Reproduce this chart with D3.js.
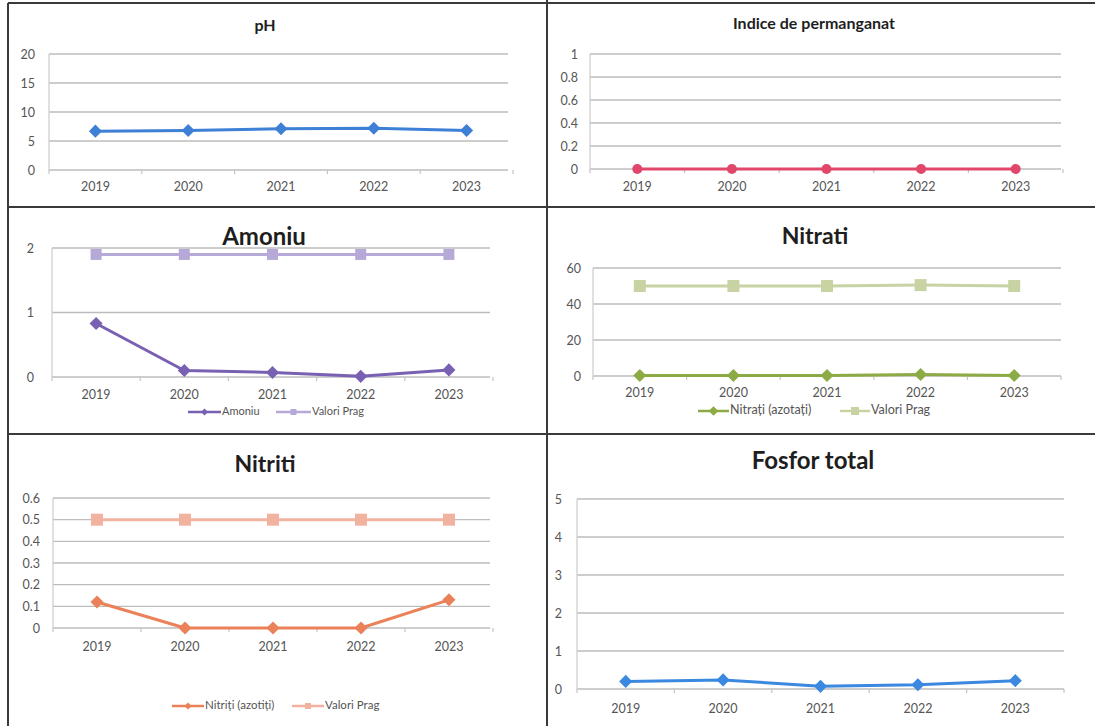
<!DOCTYPE html>
<html><head><meta charset="utf-8">
<script src="https://cdn.jsdelivr.net/npm/d3@7/dist/d3.min.js"></script>
<style>body{margin:0;background:#fff}svg{display:block}</style>
</head><body>
<svg id="c" width="1095" height="726"></svg>
<script>
const years = ["2019","2020","2021","2022","2023"];
const phValues = [6.7, 6.8, 7.1, 7.2, 6.8];
const phTicks = [0,5,10,15,20];
const permanganatValues = [0,0,0,0,0];
const permanganatTicks = [0,0.2,0.4,0.6,0.8,1];
const amoniuValues = [0.83, 0.1, 0.07, 0.01, 0.11];
const amoniuPrag = [1.9, 1.9, 1.9, 1.9, 1.9];
const amoniuTicks = [0,1,2];
const nitratiValues = [0.3, 0.3, 0.3, 0.8, 0.3];
const nitratiPrag = [50, 50, 50, 50.5, 50];
const nitratiTicks = [0,20,40,60];
const nitritiValues = [0.12, 0, 0, 0, 0.13];
const nitritiPrag = [0.5, 0.5, 0.5, 0.5, 0.5];
const nitritiTicks = [0,0.1,0.2,0.3,0.4,0.5,0.6];
const fosforValues = [0.2, 0.24, 0.07, 0.11, 0.22];
const fosforTicks = [0,1,2,3,4,5];

const svg = d3.select("#c");
const FONT = "Lato, 'Open Sans', sans-serif";

// frame lines
const frame = svg.append("g").attr("stroke","#3a3a3a").attr("stroke-width",2);
frame.append("line").attr("x1",8).attr("x2",1095).attr("y1",3).attr("y2",3);
frame.append("line").attr("x1",8).attr("x2",8).attr("y1",3).attr("y2",726);
frame.append("line").attr("x1",547).attr("x2",547).attr("y1",0).attr("y2",726);
frame.append("line").attr("x1",8).attr("x2",1095).attr("y1",207).attr("y2",207);
frame.append("line").attr("x1",8).attr("x2",1095).attr("y1",434).attr("y2",434);

function marker(g, type, x, y, c, s){
  if(type==="square"){
    g.append("rect").attr("x",x-s/2).attr("y",y-s/2).attr("width",s).attr("height",s).attr("fill",c);
  } else if(type==="circle"){
    g.append("circle").attr("cx",x).attr("cy",y).attr("r",s/2).attr("fill",c);
  } else {
    g.append("path").attr("d", d3.symbol(d3.symbolDiamond2, s*s*0.9)()).attr("transform",`translate(${x},${y})`).attr("fill",c);
  }
}

function panel(cfg){
  const g = svg.append("g");
  const x = d3.scaleBand().domain(years).range([cfg.left, cfg.right]).padding(0);
  const y = d3.scaleLinear().domain([0, d3.max(cfg.ticks)]).range([cfg.bottom, cfg.top]);
  // gridlines
  g.append("g").selectAll("line").data(cfg.ticks).join("line")
    .attr("x1",cfg.left).attr("x2",cfg.gridRight||cfg.right)
    .attr("y1",d=>y(d)).attr("y2",d=>y(d))
    .attr("stroke","#bcbcbc").attr("stroke-width",1.3);
  // y axis line
  g.append("line").attr("x1",cfg.left).attr("x2",cfg.left).attr("y1",cfg.top).attr("y2",cfg.bottom)
    .attr("stroke","#cfcfcf").attr("stroke-width",1.3);
  // y tick labels
  const yAxis = d3.axisLeft(y).tickValues(cfg.ticks).tickSize(0).tickPadding(cfg.yPad)
    .tickFormat(d=>String(+d.toFixed(2)));
  const ya = g.append("g").attr("transform",`translate(${cfg.left},0)`).call(yAxis);
  ya.select(".domain").remove();
  ya.selectAll("text").attr("font-family",FONT).attr("font-size",12.5).attr("fill","#555");
  // x category tick marks at band boundaries
  const bounds = years.map(d=>x(d)).concat([x(years[years.length-1])+x.bandwidth()]);
  g.append("g").selectAll("line").data(bounds).join("line")
    .attr("x1",d=>d).attr("x2",d=>d).attr("y1",cfg.bottom).attr("y2",cfg.bottom+4)
    .attr("stroke","#c4c4c4").attr("stroke-width",1.2);
  // x labels
  const xAxis = d3.axisBottom(x).tickSize(0).tickPadding(cfg.xPad);
  const xa = g.append("g").attr("transform",`translate(0,${cfg.bottom})`).call(xAxis);
  xa.select(".domain").remove();
  xa.selectAll("text").attr("font-family",FONT).attr("font-size",12.5).attr("fill","#555");
  // title
  g.append("text").attr("x",cfg.titleX).attr("y",cfg.titleY).attr("text-anchor","middle")
    .attr("dominant-baseline","middle")
    .attr("font-family",FONT).attr("font-weight","bold").attr("font-size",cfg.titleSize).attr("fill","#1e1e1e")
    .text(cfg.title);
  // series
  cfg.series.forEach(s=>{
    const line = d3.line().x((d,i)=>x(years[i])+x.bandwidth()/2).y(d=>y(d));
    g.append("path").datum(s.values).attr("d",line).attr("fill","none")
      .attr("stroke",s.color).attr("stroke-width",s.width||3).attr("stroke-linejoin","round");
    s.values.forEach((v,i)=>{
      marker(g, s.marker, x(years[i])+x.bandwidth()/2, y(v), s.color, s.msize||11);
    });
  });
  // legend
  if(cfg.legend){
    cfg.legend.forEach((l,i)=>{
      const s = cfg.series[i];
      g.append("line").attr("x1",l.x1).attr("x2",l.x2).attr("y1",cfg.legendY).attr("y2",cfg.legendY)
        .attr("stroke",s.color).attr("stroke-width",2.5);
      marker(g, s.marker, (l.x1+l.x2)/2, cfg.legendY, s.color, cfg.legendMarker);
      g.append("text").attr("x",l.x2+1).attr("y",cfg.legendY).attr("dominant-baseline","middle")
        .attr("font-family",FONT).attr("font-size",cfg.legendSize).attr("fill","#555").text(l.label);
    });
  }
}

panel({title:"pH", titleX:265, titleY:27, titleSize:16, left:49, right:513, gridRight:508, top:54, bottom:170,
  ticks:phTicks, yPad:14, xPad:12,
  series:[{values:phValues, color:"#3d80d6", marker:"diamond", msize:11}]});

panel({title:"Indice de permanganat", titleX:814, titleY:25, titleSize:16, left:590, right:1063, gridRight:1061, top:54, bottom:169,
  ticks:permanganatTicks, yPad:12, xPad:13,
  series:[{values:permanganatValues, color:"#e0476a", marker:"circle", msize:10}]});

panel({title:"Amoniu", titleX:264, titleY:239, titleSize:24, left:52, right:493, gridRight:490, top:248, bottom:377,
  ticks:amoniuTicks, yPad:18, xPad:13,
  series:[{values:amoniuValues, color:"#7860b2", marker:"diamond", msize:11},
          {values:amoniuPrag, color:"#b6a9d8", marker:"square", msize:11}],
  legendY:412, legendSize:11, legendMarker:6,
  legend:[{x1:188,x2:221,label:"Amoniu"},{x1:276,x2:311,label:"Valori Prag"}]});

panel({title:"Nitrati", titleX:815, titleY:238, titleSize:23, left:593, right:1061, top:268, bottom:376,
  ticks:nitratiTicks, yPad:12, xPad:12,
  series:[{values:nitratiValues, color:"#8dab45", marker:"diamond", msize:11},
          {values:nitratiPrag, color:"#c7d3a3", marker:"square", msize:12}],
  legendY:411, legendSize:12.5, legendMarker:8,
  legend:[{x1:698,x2:729,label:"Nitrați (azotați)"},{x1:840,x2:870,label:"Valori Prag"}]});

panel({title:"Nitriti", titleX:265, titleY:466, titleSize:23, left:53, right:493, gridRight:490, top:498, bottom:628,
  ticks:nitritiTicks, yPad:13, xPad:14,
  series:[{values:nitritiValues, color:"#ea8159", marker:"diamond", msize:11},
          {values:nitritiPrag, color:"#f2b2a0", marker:"square", msize:12}],
  legendY:706, legendSize:11.5, legendMarker:6,
  legend:[{x1:172,x2:204,label:"Nitriți (azotiți)"},{x1:292,x2:324,label:"Valori Prag"}]});

panel({title:"Fosfor total", titleX:813, titleY:463, titleSize:24, left:577, right:1064, top:499, bottom:689,
  ticks:fosforTicks, yPad:15, xPad:15,
  series:[{values:fosforValues, color:"#3a88e0", marker:"diamond", msize:11}]});
</script>
</body></html>
